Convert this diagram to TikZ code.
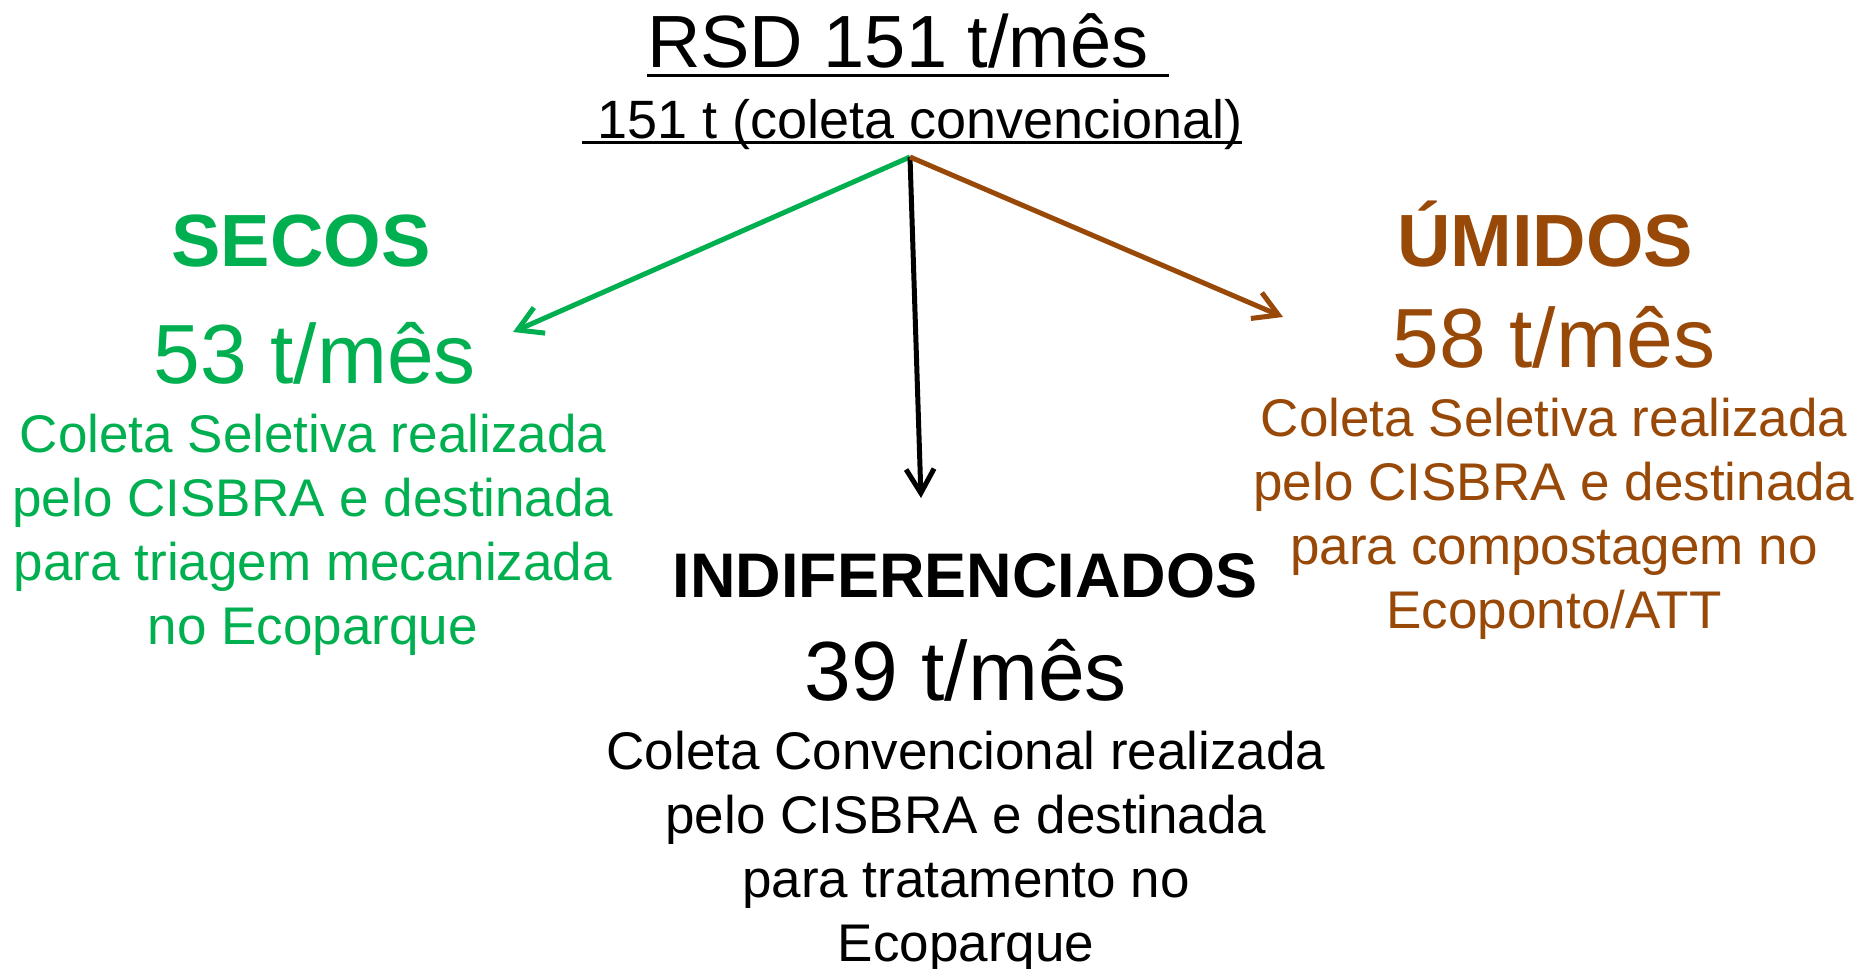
\documentclass[tikz,border=0pt]{standalone}
\usepackage{fontspec}
\setmainfont{Liberation Sans}
\usetikzlibrary{arrows.meta}
\definecolor{cgreen}{HTML}{00B050}
\definecolor{cbrown}{HTML}{984807}
\begin{document}
\begin{tikzpicture}[x=1pt,y=-1pt,
  every node/.style={inner sep=0pt, outer sep=0pt},
  titletext/.style={anchor=base west, font=\fontsize{74}{88}\selectfont},
  subtext/.style={anchor=base west, font=\fontsize{54}{65}\selectfont},
  head/.style={anchor=base, font=\fontsize{74}{88}\selectfont\bfseries},
  headsmall/.style={anchor=base, font=\fontsize{63}{75}\selectfont\bfseries},
  amount/.style={anchor=base, font=\fontsize{84}{100}\selectfont},
  body/.style={anchor=base, align=center, font=\fontsize{53}{63.7}\selectfont},
  flow/.style={line width=5pt, -{Straight Barb[length=24pt,width=28pt,sharp]}},
  uline/.style={line width=3pt}
]
\useasboundingbox (0,0) rectangle (1858,969);
\fill[white] (0,0) rectangle (1858,969);

% title
\node[titletext] (title) at (647,67) {RSD 151 t/mês};
\draw[uline] ([yshift=-8pt]title.base west) -- ([xshift=20pt,yshift=-8pt]title.base east);
\node[subtext] (sub) at (597,138) {151 t (coleta convencional)};
\draw[line width=2.5pt] ([xshift=-15pt,yshift=-4.5pt]sub.base west) -- ([yshift=-4.5pt]sub.base east);

\coordinate (src) at (910,157);
\coordinate (gend) at (513,332);
\coordinate (kend) at (921,498);
\coordinate (bend) at (1283,317);

% secos (body anchor = baseline of last line)
\node[head, text=cgreen] (secos) at (301,266) {SECOS};
\node[amount, text=cgreen] (s53) at (315,383) {53 t/mês};
\node[body, text=cgreen] (sbody) at (313,644) {Coleta Seletiva realizada\\pelo CISBRA e destinada\\para triagem mecanizada\\no Ecoparque};

% indiferenciados
\node[headsmall] (indif) at (965,597) {INDIFERENCIADOS};
\node[amount] (i39) at (966,700) {39 t/mês};
\node[body] (ibody) at (966,961) {Coleta Convencional realizada\\pelo CISBRA e destinada\\para tratamento no\\Ecoparque};

% umidos
\node[head, text=cbrown] (umidos) at (1545,266) {ÚMIDOS};
\node[amount, text=cbrown] (u58) at (1554,367) {58 t/mês};
\node[body, text=cbrown] (ubody) at (1554,628) {Coleta Seletiva realizada\\pelo CISBRA e destinada\\para compostagem no\\Ecoponto/ATT};

% arrows
\draw[flow, draw=cgreen] (src) -- (gend);
\draw[flow, draw=black] (src) -- (kend);
\draw[flow, draw=cbrown] (src) -- (bend);
\end{tikzpicture}
\end{document}
